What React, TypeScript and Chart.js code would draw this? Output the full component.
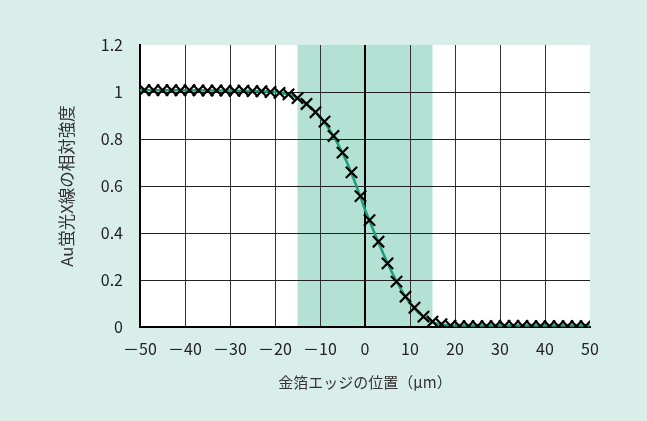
import React, { useEffect, useRef } from "react";
import { Chart, registerables } from "chart.js";

Chart.register(...registerables);

// Measured points (cross markers)
const markerX = [
  -49, -47, -45, -43, -41, -39, -37, -35, -33, -31, -29, -27, -25, -23, -21,
  -19, -17, -15, -13, -11, -9, -7, -5, -3, -1, 1, 3, 5, 7, 9, 11, 13, 15, 17, 19,
  21, 23, 25, 27, 29, 31, 33, 35, 37, 39, 41, 43, 45, 47, 49,
];
const markerY = [
  1.008, 1.008, 1.008, 1.008, 1.007, 1.008, 1.007, 1.006, 1.007, 1.006, 1.005, 1.006, 1.004, 1.003, 1.0,
  0.996, 0.99, 0.974, 0.949, 0.914, 0.874, 0.813, 0.742, 0.658, 0.557, 0.455, 0.363, 0.271, 0.193, 0.129,
  0.082, 0.044, 0.023, 0.012, 0.006,
  0.004, 0.004, 0.004, 0.004, 0.004, 0.005, 0.005, 0.005, 0.004, 0.004, 0.004, 0.004, 0.004, 0.004, 0.004,
];

// Fitted curve (green)
const fitX = [-50, -30, -20, -18, -16, -14, -12, -10, -8, -6, -4, -2, 0, 2, 4, 6, 8, 10, 12, 14, 16, 18, 20, 30, 50];
const fitY = [
  1.007, 1.006, 1.0, 0.994, 0.983, 0.963, 0.933, 0.893, 0.843, 0.778, 0.7, 0.605, 0.5, 0.405, 0.315,
  0.232, 0.16, 0.1, 0.058, 0.03, 0.015, 0.009, 0.006, 0.006, 0.006,
];

const xTickValues = [-50, -40, -30, -20, -10, 0, 10, 20, 30, 40, 50];
const yTickValues = [0, 0.2, 0.4, 0.6, 0.8, 1, 1.2];
const bandRange = [-15, 15];

const xTitle = "金箔エッジの位置（μm）";
const yTitle = "Au蛍光X線の相対強度";

const FONT = "'Noto Sans CJK JP', 'Noto Sans', sans-serif";
const TICK_FONT = "'Noto Sans CJK JP', 'Noto Sans', sans-serif";

const bgPlugin = {
  id: "plotBackground",
  beforeDraw(chart: any) {
    const { ctx, chartArea, scales } = chart;
    const { left, top, right, bottom } = chartArea;
    ctx.save();
    ctx.fillStyle = "#ffffff";
    ctx.fillRect(left, top, right - left, bottom - top);
    const x0 = scales.x.getPixelForValue(bandRange[0]);
    const x1 = scales.x.getPixelForValue(bandRange[1]);
    ctx.fillStyle = "#b3e1d4";
    ctx.fillRect(x0, top, x1 - x0, bottom - top);
    ctx.restore();
  },
};

export default function App() {
  const canvasRef = useRef<HTMLCanvasElement | null>(null);

  useEffect(() => {
    const canvas = canvasRef.current;
    if (!canvas) return;
    const chart = new Chart(canvas, {
      type: "scatter",
      data: {
        datasets: [
          {
            label: "measured",
            data: markerX.map((x, i) => ({ x, y: markerY[i] })),
            showLine: false,
            pointStyle: "crossRot",
            pointRadius: 8,
            pointBorderWidth: 2.2,
            borderColor: "#000000",
            backgroundColor: "#000000",
          },
          {
            label: "fit",
            data: fitX.map((x, i) => ({ x, y: fitY[i] })),
            showLine: true,
            pointRadius: 0,
            borderColor: "#1b9d7c",
            borderWidth: 2.5,
            cubicInterpolationMode: "monotone",
          },
        ],
      },
      options: {
        responsive: false,
        animation: false,
        layout: { padding: { left: 0, top: 45, right: 57, bottom: 0 } },
        plugins: {
          legend: { display: false },
          tooltip: { enabled: false },
        },
        scales: {
          x: {
            type: "linear",
            min: -50,
            max: 50,
            afterFit(scale: any) {
              scale.height = 94;
            },
            afterBuildTicks(scale: any) {
              scale.ticks = xTickValues.map((v) => ({ value: v }));
            },
            ticks: {
              padding: 12,
              color: "#222",
              font: { family: TICK_FONT, size: 16 },
              maxRotation: 0,
              autoSkip: false,
              callback: (v: any) => (Number(v) < 0 ? "－" + Math.abs(Number(v)) : String(v)),
            },
            grid: {
              drawTicks: false,
              color: (c: any) =>
                c.tick && c.tick.value === 50 ? "rgba(0,0,0,0)" : c.tick && c.tick.value === 0 ? "#000" : "#333",
              lineWidth: (c: any) => (c.tick && c.tick.value === 0 ? 2 : 1),
            },
            border: { display: true, color: "#000", width: 2 },
            title: {
              display: true,
              text: xTitle,
              color: "#333",
              font: { family: FONT, size: 15 },
              padding: { top: 0, bottom: 30 },
            },
          },
          y: {
            type: "linear",
            min: 0,
            max: 1.2,
            afterFit(scale: any) {
              scale.width = 140;
            },
            afterBuildTicks(scale: any) {
              scale.ticks = yTickValues.map((v) => ({ value: v }));
            },
            ticks: {
              padding: 17,
              color: "#222",
              font: { family: TICK_FONT, size: 16 },
              autoSkip: false,
              callback: (v: any) => String(Math.round(Number(v) * 10) / 10),
            },
            grid: {
              drawTicks: false,
              color: (c: any) => (c.tick && Math.abs(c.tick.value - 1.2) < 1e-9 ? "rgba(0,0,0,0)" : "#222"),
              lineWidth: 1,
            },
            border: { display: true, color: "#000", width: 2 },
            title: {
              display: true,
              text: yTitle,
              color: "#333",
              font: { family: FONT, size: 16.5 },
              padding: { top: 57, bottom: 0 },
            },
          },
        },
      },
      plugins: [bgPlugin],
    });
    return () => chart.destroy();
  }, []);

  return (
    <div
      style={{
        position: "fixed",
        left: 0,
        top: 0,
        width: 647,
        height: 421,
        background: "#d9eee8",
      }}
    >
      <canvas ref={canvasRef} width={647} height={421} style={{ display: "block", width: 647, height: 421 }} />
    </div>
  );
}
